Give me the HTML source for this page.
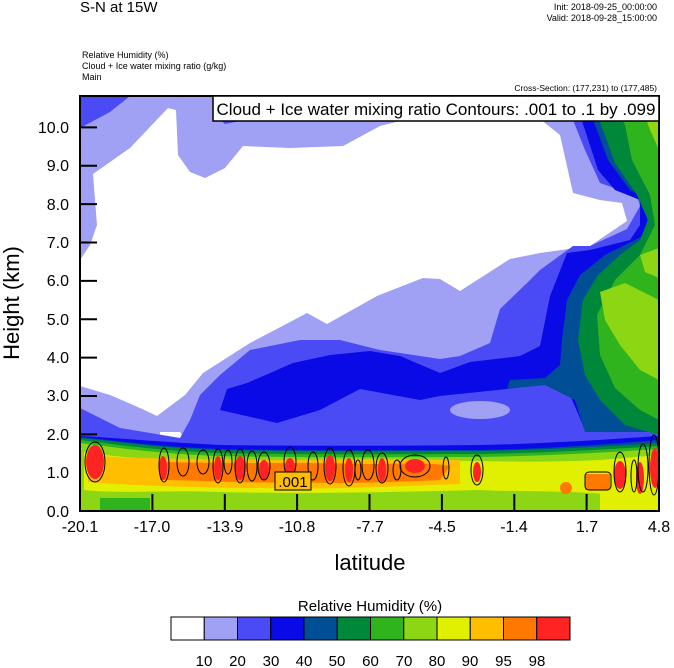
<!DOCTYPE html>
<html><head><meta charset="utf-8"><style>
html,body{margin:0;padding:0;background:#fff;}
svg{display:block;font-family:"Liberation Sans",Arial,sans-serif;}
</style></head><body>
<svg width="674" height="668" viewBox="0 0 674 668" xmlns="http://www.w3.org/2000/svg">
<defs><clipPath id="c"><rect x="80" y="96" width="579" height="415"/></clipPath></defs>
<text x="80" y="12" font-size="15">S-N at 15W</text>
<text x="657" y="10" font-size="9" text-anchor="end">Init: 2018-09-25_00:00:00</text>
<text x="657" y="21" font-size="9" text-anchor="end">Valid: 2018-09-28_15:00:00</text>
<text x="82" y="58" font-size="9">Relative Humidity   (%)</text>
<text x="82" y="69" font-size="9">Cloud + Ice water mixing ratio   (g/kg)</text>
<text x="82" y="80" font-size="9">Main</text>
<text x="657" y="91" font-size="8.5" text-anchor="end">Cross-Section: (177,231) to (177,485)</text>
<g clip-path="url(#c)">
<rect x="80" y="96" width="579" height="415" fill="#a0a0f5"/>
<polygon points="80,96 130,96 110,112 80,128" fill="#4b4bf5"/>
<polygon points="215,96 250,96 245,120 225,124 215,115" fill="#4b4bf5"/>
<!-- white -->
<polygon points="93,174 130,148 168,108 176,110 178,155 190,172 205,178 225,168 243,146 290,148 343,146 380,126 400,121 540,119 560,135 573,193 600,200 622,203 627,221 590,246 540,253 510,259 460,291 440,279 423,278 377,296 327,324 307,313 290,322 250,343 203,373 185,395 157,416 140,408 110,395 80,386 80,260 90,245 97,225 95,200" fill="#ffffff"/>
<polygon points="160,432 180,432 184,438 160,438" fill="#fff"/>
<!-- blue 30 -->
<polygon points="560,96 573,120 585,150 600,183 637,196 640,206 627,229 590,246 573,246 540,270 527,283 500,309 490,343 460,356 440,359 380,350 340,340 300,340 250,350 220,375 200,395 190,420 180,438 120,428 80,408 80,511 659,511 659,96" fill="#4b4bf5"/>
<ellipse cx="480" cy="410" rx="30" ry="9" fill="#a0a0f5"/>
<ellipse cx="617" cy="373" rx="10" ry="6" fill="#4b4bf5"/>
<!-- blue 40 -->
<polygon points="573,96 585,130 598,170 615,190 640,200 640,225 630,240 590,250 567,253 550,296 540,346 520,356 470,362 440,373 400,356 370,351 330,355 293,363 247,383 227,389 220,410 233,413 277,423 320,410 360,389 420,400 440,396 507,389 540,380 570,395 585,430 659,430 659,96" fill="#0a0ae6"/>
<!-- teal 50 -->
<polygon points="582,96 595,125 608,160 630,190 650,200 645,235 605,255 580,275 567,300 562,340 560,365 545,378 510,380 507,389 545,385 575,400 585,432 659,432 659,96" fill="#004e96"/>
<!-- green 60 -->
<polygon points="590,96 603,130 615,163 637,195 648,220 640,240 620,255 598,275 583,300 578,340 585,375 600,400 625,425 659,435 659,96" fill="#00883a"/>
<!-- green 70 -->
<polygon points="610,96 625,125 632,160 650,195 655,225 640,255 615,280 597,315 600,355 615,388 640,410 659,420 659,96" fill="#30b41e"/>
<polygon points="640,96 659,96 659,150 648,125" fill="#8cd614"/>
<polygon points="600,292 625,283 659,300 659,380 640,370 620,345 605,320" fill="#8cd614"/>
<polygon points="640,255 659,248 659,278 645,272" fill="#8cd614"/>
<!-- bottom band -->
<path d="M80,436 C120,438 160,442 220,445 C300,446 400,446 480,445 C540,444 600,440 659,436 L659,511 L80,511Z" fill="#0a0ae6"/>
<path d="M80,437 C120,441 160,447 220,449 C300,451 400,450 480,450 C540,449 600,445 659,440 L659,511 L80,511Z" fill="#004e96"/>
<path d="M80,438 C120,442 160,448 220,450 C300,452 400,451 480,451 C540,450 600,447 659,443 L659,511 L80,511Z" fill="#00883a"/>
<path d="M80,440 C120,445 160,451 220,453 C300,455 400,454 480,454 C540,453 600,450 659,446 L659,511 L80,511Z" fill="#30b41e"/>
<path d="M80,443 C120,448 160,454 220,456 C300,458 400,457 480,457 C540,456 600,453 659,449 L659,511 L80,511Z" fill="#8cd614"/>
<path d="M84,452 C120,458 160,460 220,460 C300,461 400,460 480,461 C520,462 560,462 600,460 L659,455 L659,500 L620,495 C560,490 520,492 480,490 C400,492 300,494 220,492 C160,490 120,494 84,490Z" fill="#e0f000"/>
<rect x="100" y="498" width="50" height="13" fill="#30b41e"/>
<rect x="600" y="490" width="59" height="21" fill="#e0f000"/>
<path d="M88,455 C140,460 200,458 260,460 C330,460 400,458 460,460 L460,484 C400,486 330,490 260,488 C200,488 140,486 88,482Z" fill="#ffbe00"/>
<path d="M160,462 C250,464 300,462 360,464 C400,464 430,462 450,466 L440,480 C400,482 340,484 290,482 C250,484 200,480 160,480Z" fill="#ff7800"/>
<g fill="#ff2424">
<ellipse cx="95" cy="462" rx="9" ry="17"/><ellipse cx="163" cy="468" rx="4" ry="12"/>
<ellipse cx="218" cy="468" rx="4" ry="12"/><ellipse cx="240" cy="468" rx="5" ry="12"/>
<ellipse cx="264" cy="470" rx="5" ry="10"/><ellipse cx="290" cy="468" rx="5" ry="10"/>
<ellipse cx="330" cy="468" rx="5" ry="13"/><ellipse cx="349" cy="470" rx="4" ry="12"/>
<ellipse cx="382" cy="470" rx="4" ry="12"/><ellipse cx="415" cy="466" rx="10" ry="7"/>
<ellipse cx="477" cy="472" rx="4" ry="10"/><ellipse cx="620" cy="475" rx="6" ry="14"/>
<ellipse cx="640" cy="478" rx="4" ry="16"/><ellipse cx="655" cy="468" rx="5" ry="20"/>
</g>
<g fill="#ff7800"><ellipse cx="566" cy="488" rx="6" ry="6"/><rect x="585" y="474" width="25" height="16"/></g>
<g fill="none" stroke="#000" stroke-width="1">
<ellipse cx="95" cy="462" rx="10" ry="20"/><ellipse cx="164" cy="465" rx="5" ry="17"/>
<ellipse cx="183" cy="462" rx="6" ry="14"/><ellipse cx="203" cy="462" rx="6" ry="12"/>
<ellipse cx="218" cy="466" rx="5" ry="17"/><ellipse cx="228" cy="462" rx="4" ry="12"/>
<ellipse cx="240" cy="466" rx="5" ry="17"/><ellipse cx="252" cy="466" rx="5" ry="15"/>
<ellipse cx="264" cy="466" rx="6" ry="14"/><ellipse cx="290" cy="462" rx="6" ry="15"/>
<ellipse cx="313" cy="466" rx="5" ry="14"/><ellipse cx="330" cy="466" rx="6" ry="18"/>
<ellipse cx="349" cy="468" rx="6" ry="18"/><ellipse cx="358" cy="470" rx="3" ry="10"/>
<ellipse cx="368" cy="465" rx="6" ry="15"/><ellipse cx="382" cy="468" rx="6" ry="15"/>
<ellipse cx="397" cy="470" rx="4" ry="10"/><ellipse cx="415" cy="466" rx="15" ry="11"/>
<ellipse cx="446" cy="468" rx="3" ry="11"/><ellipse cx="477" cy="470" rx="6" ry="15"/>
<rect x="585" y="472" width="26" height="18" rx="4"/>
<ellipse cx="620" cy="472" rx="6" ry="20"/><ellipse cx="634" cy="476" rx="3" ry="16"/>
<ellipse cx="643" cy="468" rx="5" ry="24"/><ellipse cx="654" cy="465" rx="5" ry="30"/>
</g>
<rect x="275" y="472" width="36" height="18" fill="#ffbe00" stroke="#000"/>
<text x="293" y="487" font-size="15" text-anchor="middle">.001</text>
</g>
<rect x="80" y="96" width="579" height="415" fill="none" stroke="#000" stroke-width="2"/>
<rect x="213" y="96" width="446" height="25" fill="#fff" stroke="#000" stroke-width="1.5"/>
<text x="436" y="115" font-size="17" text-anchor="middle">Cloud + Ice water mixing ratio Contours: .001 to .1 by .099</text>
<g stroke="#000" stroke-width="2">
<line x1="80" y1="127.4" x2="97" y2="127.4"/><line x1="80" y1="165.7" x2="97" y2="165.7"/><line x1="80" y1="204.1" x2="97" y2="204.1"/><line x1="80" y1="242.5" x2="97" y2="242.5"/><line x1="80" y1="280.9" x2="97" y2="280.9"/><line x1="80" y1="319.2" x2="97" y2="319.2"/><line x1="80" y1="357.6" x2="97" y2="357.6"/><line x1="80" y1="396" x2="97" y2="396"/><line x1="80" y1="434.4" x2="97" y2="434.4"/>
<line x1="152.4" y1="511" x2="152.4" y2="494"/><line x1="224.8" y1="511" x2="224.8" y2="494"/><line x1="297.1" y1="511" x2="297.1" y2="494"/><line x1="369.5" y1="511" x2="369.5" y2="494"/><line x1="441.9" y1="511" x2="441.9" y2="494"/><line x1="514.3" y1="511" x2="514.3" y2="494"/><line x1="586.6" y1="511" x2="586.6" y2="494"/>
</g>
<g font-size="16" text-anchor="end">
<text x="69" y="133">10.0</text><text x="69" y="171">9.0</text><text x="69" y="210">8.0</text><text x="69" y="248">7.0</text><text x="69" y="286">6.0</text><text x="69" y="325">5.0</text><text x="69" y="363">4.0</text><text x="69" y="401">3.0</text><text x="69" y="440">2.0</text><text x="69" y="478">1.0</text><text x="69" y="517">0.0</text>
</g>
<g font-size="16" text-anchor="middle">
<text x="80" y="532">-20.1</text><text x="152" y="532">-17.0</text><text x="225" y="532">-13.9</text><text x="297" y="532">-10.8</text><text x="370" y="532">-7.7</text><text x="442" y="532">-4.5</text><text x="514" y="532">-1.4</text><text x="587" y="532">1.7</text><text x="659" y="532">4.8</text>
</g>
<text x="370" y="570" font-size="22" text-anchor="middle">latitude</text>
<text transform="translate(19,303) rotate(-90)" font-size="22" text-anchor="middle">Height (km)</text>
<text x="370" y="611" font-size="15" text-anchor="middle">Relative Humidity  (%)</text>
<g stroke="#000" stroke-width="1">
<rect x="171" y="617" width="33.25" height="23" fill="#fff"/>
<rect x="204.25" y="617" width="33.25" height="23" fill="#a0a0f5"/>
<rect x="237.5" y="617" width="33.25" height="23" fill="#4b4bf5"/>
<rect x="270.75" y="617" width="33.25" height="23" fill="#0a0ae6"/>
<rect x="304" y="617" width="33.25" height="23" fill="#004e96"/>
<rect x="337.25" y="617" width="33.25" height="23" fill="#00883a"/>
<rect x="370.5" y="617" width="33.25" height="23" fill="#30b41e"/>
<rect x="403.75" y="617" width="33.25" height="23" fill="#8cd614"/>
<rect x="437" y="617" width="33.25" height="23" fill="#e0f000"/>
<rect x="470.25" y="617" width="33.25" height="23" fill="#ffbe00"/>
<rect x="503.5" y="617" width="33.25" height="23" fill="#ff7800"/>
<rect x="536.75" y="617" width="33.25" height="23" fill="#ff2424"/>
</g>
<g font-size="15" text-anchor="middle">
<text x="204" y="666">10</text><text x="237.5" y="666">20</text><text x="271" y="666">30</text><text x="304" y="666">40</text><text x="337" y="666">50</text><text x="370.5" y="666">60</text><text x="404" y="666">70</text><text x="437" y="666">80</text><text x="470" y="666">90</text><text x="503.5" y="666">95</text><text x="537" y="666">98</text>
</g>
</svg>
</body></html>
